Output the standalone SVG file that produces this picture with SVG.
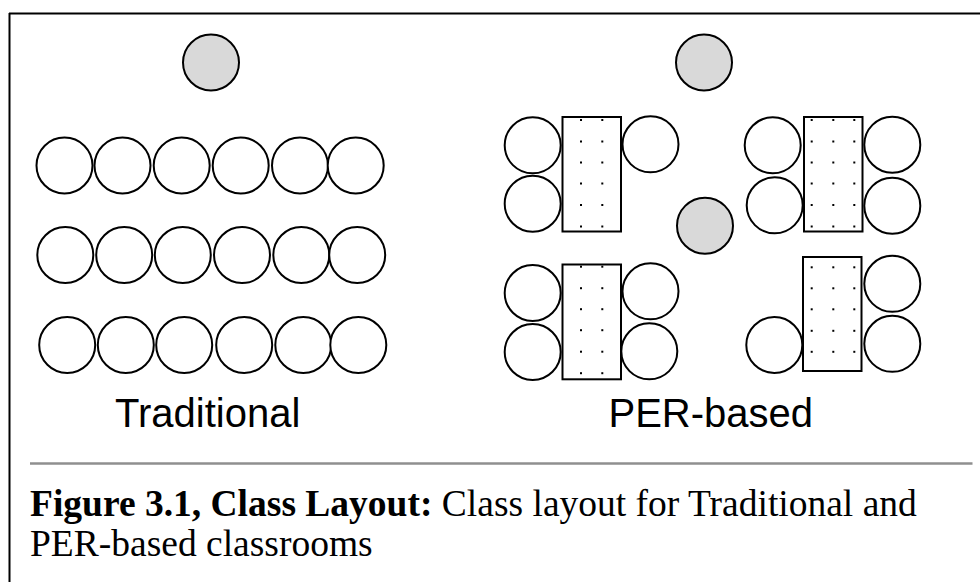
<svg xmlns="http://www.w3.org/2000/svg" width="980" height="582" viewBox="0 0 980 582">
  <defs>
    <style>
      .seat { fill: #ffffff; stroke: #000000; stroke-width: 2; }
      .teacher { fill: #d9d9d9; stroke: #000000; stroke-width: 2; }
      .table { fill: #ffffff; stroke: #000000; stroke-width: 2; }
      .dot { fill: #000000; }
      .label { font-family: "Liberation Sans", Arial, sans-serif; font-size: 40px; fill: #000000; }
      .caption { font-family: "Liberation Serif", "Times New Roman", serif; font-size: 37.5px; fill: #000000; }
    </style>
    <!-- a column of six dots, used to pattern the tables -->
    <g id="dotcol6">
      <rect class="dot" x="-1" y="-1" width="2" height="2"/>
      <rect class="dot" x="-1" y="20.5" width="2" height="2"/>
      <rect class="dot" x="-1" y="41.5" width="2" height="2"/>
      <rect class="dot" x="-1" y="62.5" width="2" height="2"/>
      <rect class="dot" x="-1" y="84" width="2" height="2"/>
      <rect class="dot" x="-1" y="105.5" width="2" height="2"/>
    </g>
    <g id="dotcol5">
      <rect class="dot" x="-1" y="-1" width="2" height="2"/>
      <rect class="dot" x="-1" y="20" width="2" height="2"/>
      <rect class="dot" x="-1" y="41" width="2" height="2"/>
      <rect class="dot" x="-1" y="62.5" width="2" height="2"/>
      <rect class="dot" x="-1" y="83.5" width="2" height="2"/>
    </g>
  </defs>

  <rect x="0" y="0" width="980" height="582" fill="#ffffff"/>

  <!-- outer frame (top and left edges) -->
  <g id="frame" fill="none" stroke="#000000" stroke-width="2">
    <line x1="9" y1="13.5" x2="980" y2="13.5"/>
    <line x1="9.5" y1="13" x2="9.5" y2="582"/>
  </g>

  <!-- Traditional layout -->
  <g id="traditional">
    <circle id="trad-teacher" class="teacher" cx="211" cy="62.5" r="28"/>
    <g id="trad-row1">
      <circle class="seat" cx="64.5" cy="165.5" r="28"/>
      <circle class="seat" cx="122.5" cy="165.5" r="28"/>
      <circle class="seat" cx="181.7" cy="165.5" r="28"/>
      <circle class="seat" cx="240.7" cy="165.5" r="28"/>
      <circle class="seat" cx="300" cy="165.5" r="28"/>
      <circle class="seat" cx="355.7" cy="165.5" r="28"/>
    </g>
    <g id="trad-row2">
      <circle class="seat" cx="65.3" cy="255" r="28"/>
      <circle class="seat" cx="124.2" cy="255" r="28"/>
      <circle class="seat" cx="182.8" cy="255" r="28"/>
      <circle class="seat" cx="242" cy="255" r="28"/>
      <circle class="seat" cx="301.3" cy="255" r="28"/>
      <circle class="seat" cx="357.2" cy="255" r="28"/>
    </g>
    <g id="trad-row3">
      <circle class="seat" cx="67.2" cy="345" r="28"/>
      <circle class="seat" cx="125.8" cy="345" r="28"/>
      <circle class="seat" cx="184.2" cy="345" r="28"/>
      <circle class="seat" cx="244.2" cy="345" r="28"/>
      <circle class="seat" cx="303.3" cy="345" r="28"/>
      <circle class="seat" cx="358.3" cy="345" r="28"/>
    </g>
    <text id="trad-label" class="label" x="115" y="427">Traditional</text>
  </g>

  <!-- PER-based layout -->
  <g id="per">
    <circle id="per-teacher-front" class="teacher" cx="704" cy="62.5" r="28"/>
    <circle id="per-teacher-roaming" class="teacher" cx="705" cy="225.7" r="28"/>

    <g id="group-top-left">
      <circle class="seat" cx="532.7" cy="145.3" r="28"/>
      <circle class="seat" cx="532.7" cy="203.7" r="28"/>
      <rect class="table" x="562.5" y="117" width="58.5" height="114.5"/>
      <use href="#dotcol6" x="581" y="120"/>
      <use href="#dotcol6" x="602.3" y="120"/>
      <circle class="seat" cx="650.5" cy="144.3" r="28"/>
    </g>

    <g id="group-top-right">
      <circle class="seat" cx="772.7" cy="145.3" r="28"/>
      <circle class="seat" cx="774.7" cy="205.3" r="28"/>
      <rect class="table" x="804" y="117" width="58.5" height="114.5"/>
      <use href="#dotcol6" x="811.7" y="120"/>
      <use href="#dotcol6" x="833.3" y="120"/>
      <use href="#dotcol6" x="854.3" y="120"/>
      <circle class="seat" cx="892.3" cy="144.7" r="28"/>
      <circle class="seat" cx="892.3" cy="205.7" r="28"/>
    </g>

    <g id="group-bottom-left">
      <circle class="seat" cx="532.7" cy="293" r="28"/>
      <circle class="seat" cx="532.7" cy="352" r="28"/>
      <rect class="table" x="562.5" y="264.5" width="58.5" height="114.8"/>
      <use href="#dotcol6" x="581" y="266.7"/>
      <use href="#dotcol6" x="602.3" y="266.7"/>
      <circle class="seat" cx="650.5" cy="291.3" r="28"/>
      <circle class="seat" cx="649.3" cy="351.3" r="28"/>
    </g>

    <g id="group-bottom-right">
      <circle class="seat" cx="774.3" cy="345" r="28"/>
      <rect class="table" x="803" y="257" width="58.5" height="114"/>
      <use href="#dotcol5" x="811.7" y="267.3"/>
      <use href="#dotcol5" x="833.3" y="267.3"/>
      <use href="#dotcol5" x="854.3" y="267.3"/>
      <circle class="seat" cx="892.3" cy="283.8" r="28"/>
      <circle class="seat" cx="892.3" cy="343.8" r="28"/>
    </g>

    <text id="per-label" class="label" x="608.5" y="427">PER-based</text>
  </g>

  <!-- caption rule and caption text -->
  <line id="caption-rule" x1="30" y1="463.5" x2="972.5" y2="463.5" stroke="#8f8f8f" stroke-width="2.5"/>
  <g id="caption">
    <text class="caption" x="30" y="516"><tspan font-weight="bold">Figure 3.1, Class Layout:</tspan> Class layout for Traditional and</text>
    <text class="caption" x="30" y="555.5">PER-based classrooms</text>
  </g>
</svg>
